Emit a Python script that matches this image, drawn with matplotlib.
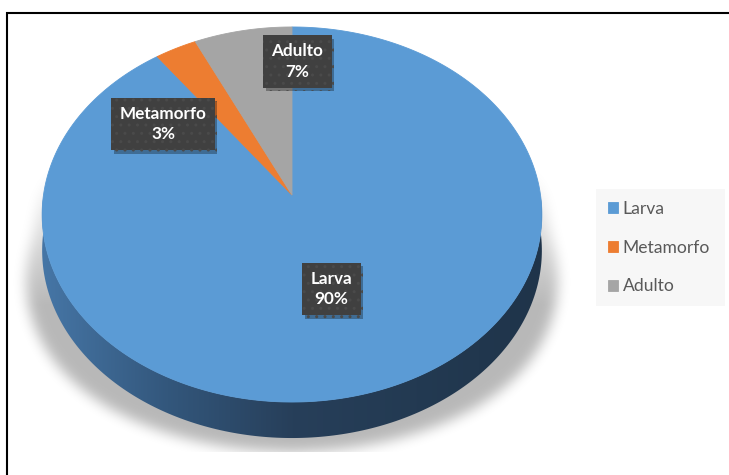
import numpy as np
import matplotlib
matplotlib.use("Agg")
import matplotlib.pyplot as plt
from matplotlib import transforms as mtransforms, patheffects
from matplotlib.colors import LinearSegmentedColormap
from matplotlib.path import Path
from matplotlib.patches import Polygon

STAGES = ["Larva", "Metamorfo", "Adulto"]
PERCENT = [90, 3, 7]
COLORS = ["#5b9bd5", "#ed7d31", "#a5a5a5"]

W, H = 729, 475
# tilted-disc geometry, in pixels (y grows downwards)
CX, CY = 292, 195
RX, RY = 248.5, 185.5
PERSP = 0.104
DEPTH = 36

plt.rcParams["font.family"] = ["Lato", "DejaVu Sans"]


def project(u, w):
    s = 1 + PERSP * w
    return CX + RX * u / s, CY - RY * w / s


class Tilt(mtransforms.Transform):
    """Unit pie coordinates -> perspective view of a lying disc."""
    input_dims = output_dims = 2
    is_separable = False
    has_inverse = False

    def transform_non_affine(self, values):
        v = np.asarray(values, float).reshape(-1, 2)
        x, y = project(v[:, 0], v[:, 1])
        return np.column_stack([x, y])

    def transform_path_non_affine(self, path):
        t = np.linspace(0, 1, 40)
        pts = []
        for seg, code in path.iter_bezier():
            if code == Path.MOVETO:
                pts.append(seg.control_points)
            else:
                pts.append(seg(t))
        return Path(self.transform_non_affine(np.vstack(pts)), closed=True)


def box_blur(a, r):
    k = np.ones(2 * r + 1) / (2 * r + 1)
    a = np.apply_along_axis(lambda m: np.convolve(m, k, mode="same"), 0, a)
    return np.apply_along_axis(lambda m: np.convolve(m, k, mode="same"), 1, a)


fig = plt.figure(figsize=(W / 100, H / 100), dpi=100)
ax = fig.add_axes([0, 0, 1, 1])

wedges, _ = ax.pie(PERCENT, colors=COLORS, startangle=90, counterclock=False,
                   wedgeprops=dict(linewidth=0.6))
ax.set_aspect("auto")
ax.set_xlim(0, W)
ax.set_ylim(H, 0)
ax.axis("off")

tilt = Tilt() + ax.transData
for w in wedges:
    w.set_edgecolor(w.get_facecolor())
    w.set_transform(tilt)
    w.set_zorder(4)

# front wall of the disc
th = np.radians(np.linspace(180, 360, 200))
tx, ty = project(np.cos(th), np.sin(th))
side_xy = np.column_stack([np.r_[tx, tx[::-1]], np.r_[ty, ty[::-1] + DEPTH]])
side = Polygon(side_xy, closed=True, facecolor="none", edgecolor="none")
ax.add_patch(side)
side_cmap = LinearSegmentedColormap.from_list(
    "wall", ["#4676a6", "#33577c", "#273f5a", "#233a52", "#1f344a"])
grad = ax.imshow(np.linspace(0, 1, 256)[None, :], cmap=side_cmap, aspect="auto",
                 extent=[tx.min(), tx.max(), ty.max() + DEPTH + 2, CY - 5],
                 zorder=3, interpolation="bilinear")
grad.set_clip_path(side)

# soft shadow under the disc
bx, by = project(np.cos(np.radians(np.linspace(0, 180, 200))),
                 np.sin(np.radians(np.linspace(0, 180, 200))))
sil_x = np.r_[bx, tx]
sil_y = np.r_[by, ty + DEPTH]
grow = 1 + 0.16 * np.clip((sil_y - 170) / 230, 0, 1)
sh_x = CX + (sil_x - CX) * grow
sh_y = CY + (sil_y - CY) * 1.04 + 4
gx, gy = np.meshgrid(np.arange(W) + 0.5, np.arange(H) + 0.5)
inside = Path(np.column_stack([sh_x, sh_y])).contains_points(
    np.column_stack([gx.ravel(), gy.ravel()])).reshape(H, W).astype(float)
soft = box_blur(box_blur(box_blur(inside, 6), 6), 5)
soft *= np.clip((gy - 165) / 140, 0, 1)
soft[gy > 452] = 0
shadow = np.zeros((H, W, 4))
shadow[..., 3] = 0.28 * soft
ax.imshow(shadow, extent=[0, W, H, 0], zorder=1, interpolation="bilinear")

# data labels
label_pos = {"Larva": (331.5, 289), "Metamorfo": (163, 124), "Adulto": (297.5, 61.5)}
for name, pct in zip(STAGES, PERCENT):
    x, y = label_pos[name]
    t = ax.text(x, y, f"{name}\n{pct}%", ha="center", va="center", color="white",
                fontsize=12.3, fontweight="bold", linespacing=1.33, zorder=6,
                bbox=dict(boxstyle="square,pad=0.48", facecolor="#404040",
                          edgecolor="#4a4a4a", linewidth=0, hatch=".."))
    t.get_bbox_patch().set_path_effects([
        patheffects.SimplePatchShadow(offset=(2, -2.5), shadow_rgbFace="black", alpha=0.3),
        patheffects.Normal()])

leg = ax.legend(wedges, STAGES, loc="upper left", mode="expand",
                bbox_to_anchor=(596 / W, 1 - 189 / H, (725 - 596) / W, 0),
                bbox_transform=ax.transAxes, frameon=True, fancybox=False,
                facecolor="#f7f7f7", edgecolor="none", framealpha=1,
                handlelength=0.58, handleheight=0.58, handletextpad=0.27,
                labelspacing=1.3, borderpad=0.68, borderaxespad=0,
                fontsize=12.6, labelcolor="#595959")
leg.set_zorder(7)

# chart border (top and left)
ax.plot([7.5, 7.5, W], [H, 12.5, 12.5], color="black", lw=1.5,
        solid_joinstyle="miter", zorder=8, clip_on=False)

fig.savefig("out.png", dpi=100)
